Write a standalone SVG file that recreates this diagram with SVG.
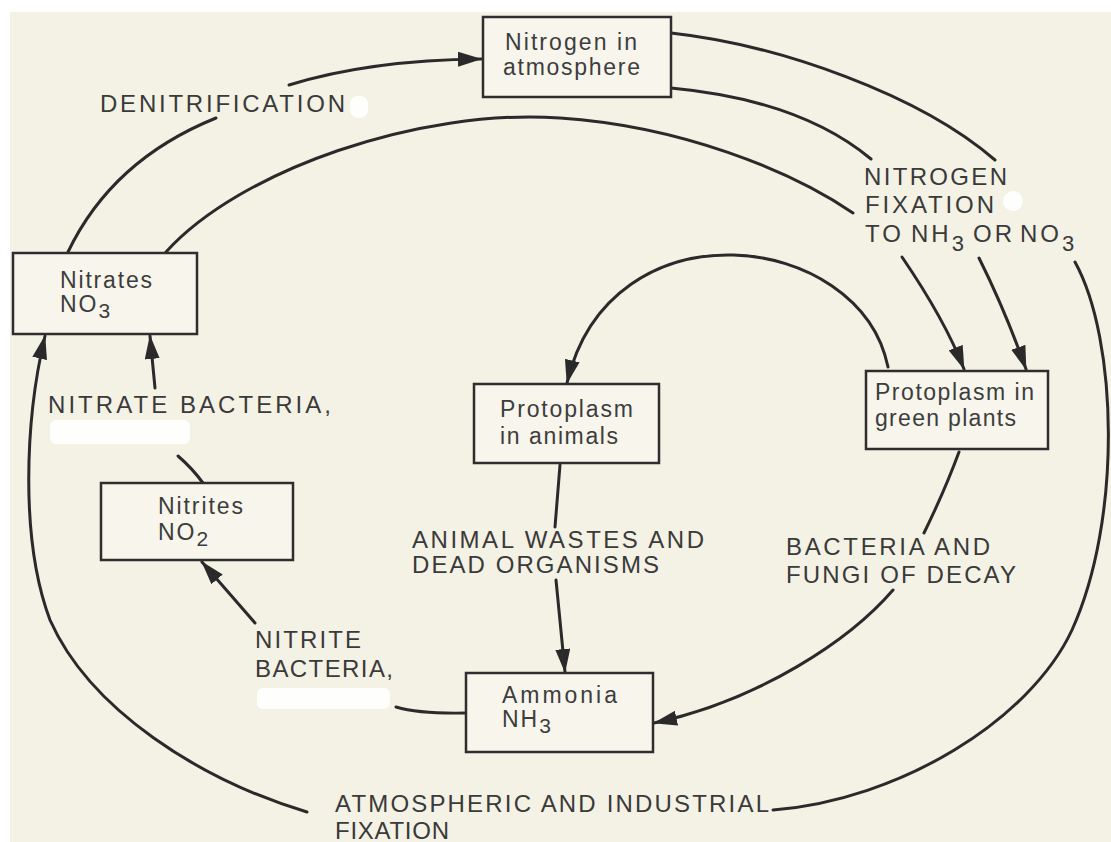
<svg xmlns="http://www.w3.org/2000/svg" width="1111" height="842" viewBox="0 0 1111 842">
<defs>
<style>
.node rect{fill:#f7f5ec;stroke:#2e2e2e;stroke-width:2.5}
.bt{font-family:"Liberation Sans",Arial,sans-serif;font-size:23px;fill:#3d3d3d}
.lbl{font-family:"Liberation Sans",Arial,sans-serif;font-size:24px;fill:#3a3a3a;letter-spacing:3px}
.sub{font-size:21px}
.lsub{font-size:22px}
#connectors path{fill:none;stroke:#2a2a2a;stroke-width:3;stroke-linecap:round}
.patch{fill:#fefefc}
</style>
<marker id="ah" viewBox="0 0 24 15" refX="23" refY="7.5" markerWidth="24" markerHeight="15" markerUnits="userSpaceOnUse" orient="auto">
<path d="M0,0 L24,7.5 L0,15 Z" fill="#2a2a2a"/>
</marker>
</defs>
<rect x="0" y="0" width="1111" height="842" fill="#ffffff"/>
<rect x="10" y="12" width="1101" height="830" fill="#f4f1e5"/>

<g id="patches">
<rect class="patch" x="350" y="96" width="18" height="22" rx="8"/>
<circle class="patch" cx="1013" cy="201" r="10"/>
<rect class="patch" x="50" y="420" width="140" height="24" rx="6"/>
<rect class="patch" x="257" y="688" width="133" height="21" rx="6"/>
</g>

<g id="connectors">
<path d="M68,252 Q112,160 216,118"/>
<path d="M289,85 Q370,60 481,59" marker-end="url(#ah)"/>
<path d="M166,252 C240,170 420,108 560,118 C680,126 790,170 853,213"/>
<path d="M902,257 Q945,320 964,369" marker-end="url(#ah)"/>
<path d="M671,88 Q800,100 871,159"/>
<path d="M979,258 Q1005,310 1026,369" marker-end="url(#ah)"/>
<path d="M671,33 C780,45 920,95 995,160"/>
<path d="M1075,262 C1118,340 1122,520 1072,630 C1030,720 900,800 773,810"/>
<path d="M307,812 C200,780 90,710 50,620 C20,540 25,420 45,336" marker-end="url(#ah)"/>
<path d="M155,388 L150,336" marker-end="url(#ah)"/>
<path d="M178,456 Q192,468 203,483"/>
<path d="M466,713 Q420,714 396,707"/>
<path d="M255,623 L202,562" marker-end="url(#ah)"/>
<path d="M560,465 L555,527"/>
<path d="M556,580 L565,672" marker-end="url(#ah)"/>
<path d="M959,452 Q945,490 924,533"/>
<path d="M893,590 C850,640 760,700 654,723" marker-end="url(#ah)"/>
<path d="M888,367 C860,230 610,200 567,383" marker-end="url(#ah)"/>
</g>

<g id="nitrogen" class="node">
<rect x="483" y="17" width="188" height="80"/>
<text class="bt" x="505" y="50" textLength="132" lengthAdjust="spacing">Nitrogen in</text>
<text class="bt" x="503" y="75" textLength="137" lengthAdjust="spacing">atmosphere</text>
</g>
<g id="nitrates" class="node">
<rect x="13" y="253" width="184" height="81"/>
<text class="bt" x="60" y="288" textLength="92" lengthAdjust="spacing">Nitrates</text>
<text class="bt" x="60" y="312" letter-spacing="2">NO<tspan class="sub" dy="6">3</tspan></text>
</g>
<g id="nitrites" class="node">
<rect x="101" y="483" width="192" height="77"/>
<text class="bt" x="158" y="514" textLength="85" lengthAdjust="spacing">Nitrites</text>
<text class="bt" x="158" y="540" letter-spacing="2">NO<tspan class="sub" dy="6">2</tspan></text>
</g>
<g id="animals" class="node">
<rect x="474" y="384" width="185" height="79"/>
<text class="bt" x="500" y="417" textLength="133" lengthAdjust="spacing">Protoplasm</text>
<text class="bt" x="500" y="444" textLength="118" lengthAdjust="spacing">in animals</text>
</g>
<g id="plants" class="node">
<rect x="866" y="371" width="182" height="78"/>
<text class="bt" x="875" y="400" textLength="159" lengthAdjust="spacing">Protoplasm in</text>
<text class="bt" x="875" y="426" textLength="141" lengthAdjust="spacing">green plants</text>
</g>
<g id="ammonia" class="node">
<rect x="466" y="673" width="187" height="79"/>
<text class="bt" x="502" y="703" textLength="115" lengthAdjust="spacing">Ammonia</text>
<text class="bt" x="502" y="727" letter-spacing="2">NH<tspan class="sub" dy="6">3</tspan></text>
</g>

<g id="labels">
<text class="lbl" x="100" y="112" textLength="248" lengthAdjust="spacing">DENITRIFICATION</text>
<text class="lbl" x="864" y="185" textLength="146" lengthAdjust="spacing">NITROGEN</text>
<text class="lbl" x="865" y="213" textLength="132" lengthAdjust="spacing">FIXATION</text>
<text class="lbl" y="242" letter-spacing="1"><tspan x="865">TO</tspan><tspan x="911">NH</tspan><tspan class="lsub" dy="9" letter-spacing="0">3</tspan><tspan x="973" dy="-9">OR</tspan><tspan x="1020">NO</tspan><tspan class="lsub" dy="9" letter-spacing="0">3</tspan></text>
<text class="lbl" x="48" y="413" textLength="286" lengthAdjust="spacing">NITRATE BACTERIA,</text>
<text class="lbl" x="255" y="648" textLength="109" lengthAdjust="spacing">NITRITE</text>
<text class="lbl" x="255" y="677" textLength="141" lengthAdjust="spacing">BACTERIA,</text>
<text class="lbl" x="412" y="548" textLength="295" lengthAdjust="spacing">ANIMAL WASTES AND</text>
<text class="lbl" x="412" y="573" textLength="250" lengthAdjust="spacing">DEAD ORGANISMS</text>
<text class="lbl" x="786" y="555" textLength="207" lengthAdjust="spacing">BACTERIA AND</text>
<text class="lbl" x="786" y="583" textLength="233" lengthAdjust="spacing">FUNGI OF DECAY</text>
<text class="lbl" x="335" y="812" textLength="437" lengthAdjust="spacing">ATMOSPHERIC AND INDUSTRIAL</text>
<text class="lbl" x="335" y="839" textLength="117" lengthAdjust="spacing">FIXATION</text>
</g>
</svg>
